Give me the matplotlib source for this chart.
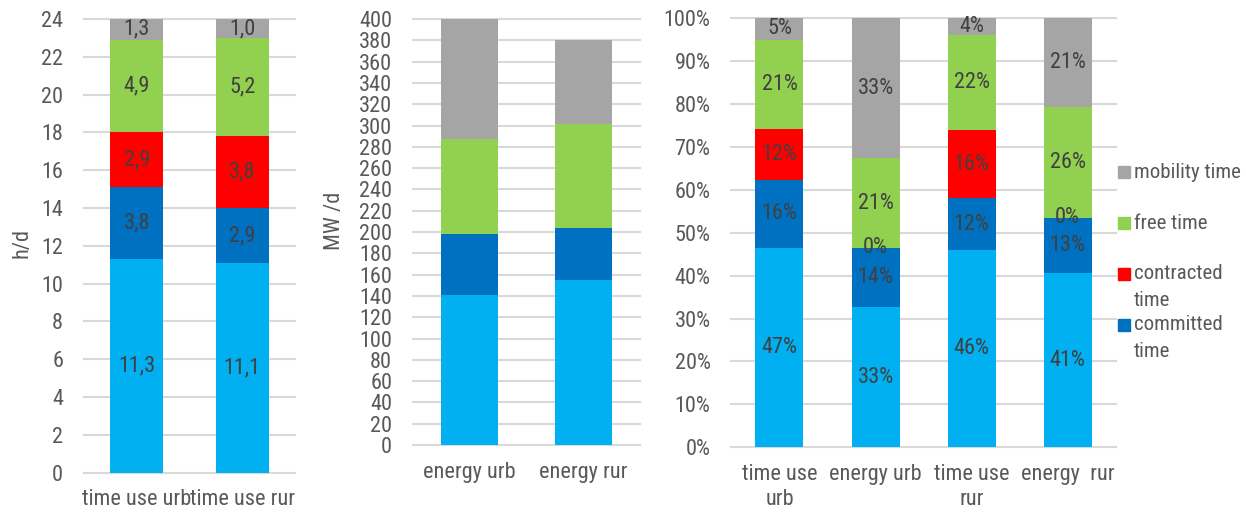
import textwrap

import numpy as np
from matplotlib import font_manager
from matplotlib import pyplot as plt
from matplotlib.patches import Rectangle
from matplotlib.ticker import PercentFormatter

# narrow sans if one is installed, plain Liberation Sans otherwise
narrow_pref = ['Liberation Sans Narrow', 'Arial Narrow', 'Roboto Condensed',
               'Open Sans Condensed', 'Noto Sans Condensed', 'DejaVu Sans Condensed', 'DejaVu Sans']
narrow_fonts = {f.name for f in font_manager.fontManager.ttflist
                if f.stretch in ('condensed', 'semi-condensed') or 'Narrow' in f.name
                or 'Condensed' in f.name}
narrow = next((n for n in narrow_pref if n in narrow_fonts), None)
if narrow:
    plt.rcParams['font.family'] = [narrow, 'DejaVu Sans']
    plt.rcParams['font.stretch'] = 'condensed'
    FS = 16
else:
    plt.rcParams['font.family'] = ['Liberation Sans', 'DejaVu Sans']
    FS = 14

# stack order, bottom to top
series = ['personal time', 'committed time', 'contracted time', 'free time', 'mobility time']
colors = ['#00b0f0', '#0070c0', '#ff0000', '#92d050', '#a5a5a5']

hours_cats = ['time use urb', 'time use rur']
hours_urb = [11.3, 3.8, 2.9, 4.9, 1.3]
hours_rur = [11.1, 2.9, 3.8, 5.2, 1.0]

energy_cats = ['energy urb', 'energy rur']
energy_urb = [141, 57, 0, 89, 113]
energy_rur = [155, 49, 0, 97, 79]

share_cats = ['time use\nurb', 'energy urb', 'time use\nrur', 'energy  rur']
share_time_urb = [47, 16, 12, 21, 5]
share_energy_urb = [33, 14, 0, 21, 33]
share_time_rur = [46, 12, 16, 22, 4]
share_energy_rur = [41, 13, 0, 26, 21]

TICK_COLOR = '#595959'
LABEL_COLOR = '#404040'
W, H = 1246, 515


def stacked(ax, cats, columns, fmt=None, normalize=False):
    values = np.array(columns, dtype=float).T
    heights = values / values.sum(axis=0) * 100 if normalize else values
    x = np.arange(len(cats))
    bottom = np.zeros(len(cats))
    for i, name in enumerate(series):
        bars = ax.bar(x, heights[i], 0.5, bottom=bottom, color=colors[i], label=name)
        if fmt is not None:
            ax.bar_label(bars, labels=[fmt(v) for v in values[i]], label_type='center',
                         fontsize=FS, color=LABEL_COLOR)
        bottom += heights[i]
    ax.set_xticks(x, cats, linespacing=1.25)
    ax.set_xlim(-0.5, len(cats) - 0.5)


def style(ax, yticks):
    ax.set_yticks(yticks)
    ax.set_ylim(yticks[0], yticks[-1])
    for s in ax.spines.values():
        s.set_visible(False)
    ax.grid(axis='y', color='#d9d9d9', linewidth=1.5)
    ax.set_axisbelow(True)
    for line in ax.get_ygridlines():
        line.set_clip_on(False)
    ax.tick_params(length=0, labelsize=FS, labelcolor=TICK_COLOR)
    ax.tick_params(axis='y', pad=15)
    ax.tick_params(axis='x', pad=12)


fig = plt.figure(figsize=(W / 100, H / 100), dpi=100)

# hours per day
ax1 = fig.add_axes([0.0674, 0.0821, 0.1693, 0.881])
stacked(ax1, hours_cats, [hours_urb, hours_rur],
        fmt=lambda v: f'{v:.1f}'.replace('.', ','))
style(ax1, np.arange(0, 25, 2))
ax1.set_ylabel('h/d', fontsize=FS, color=TICK_COLOR)
ax1.yaxis.set_label_coords(-0.246, 0.506)

# energy per day
ax2 = fig.add_axes([0.3315, 0.1359, 0.1822, 0.8272])
stacked(ax2, energy_cats, [energy_urb, energy_rur])
style(ax2, np.arange(0, 401, 20))
ax2.set_ylabel('MW /d', fontsize=FS, color=TICK_COLOR)
ax2.yaxis.set_label_coords(-0.30, 0.527)

# shares
ax3 = fig.add_axes([0.5870, 0.1315, 0.3085, 0.8330])
stacked(ax3, share_cats,
        [share_time_urb, share_energy_urb, share_time_rur, share_energy_rur],
        fmt=lambda v: f'{v:.0f}%', normalize=True)
style(ax3, np.arange(0, 101, 10))
ax3.yaxis.set_major_formatter(PercentFormatter(decimals=0))

# legend, top of stack first, light blue series left out
legend_rows = [172, 223, 273.5, 324.5]
for idx, ypx in zip([4, 3, 2, 1], legend_rows):
    fig.patches.append(Rectangle((1118 / W, 1 - (ypx + 6) / H), 12 / W, 12 / H,
                                 transform=fig.transFigure, color=colors[idx]))
    for j, line in enumerate(textwrap.wrap(series[idx], 13)):
        fig.text(1134 / W, 1 - (ypx + 27 * j) / H, line, va='center',
                 fontsize=FS - 1, color=TICK_COLOR)

fig.savefig('out.png', dpi=100)
